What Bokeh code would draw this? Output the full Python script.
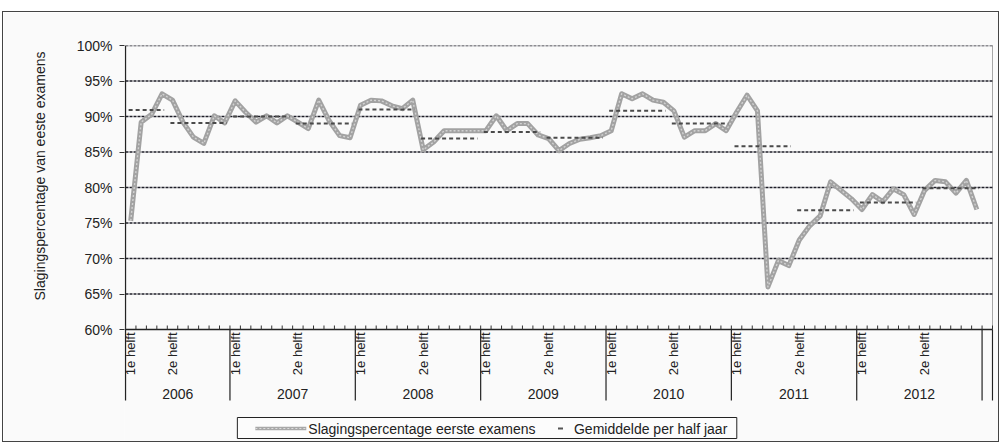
import math
from bokeh.plotting import figure
from bokeh.models import Range1d, FixedTicker, PrintfTickFormatter, Title
from bokeh.embed import file_html
from bokeh.resources import INLINE
from bokeh.core.properties import value

# ---------------- data ----------------
years = ["2006", "2007", "2008", "2009", "2010", "2011", "2012"]
months_in_year = [10, 12, 12, 12, 12, 12, 12]          # data starts March 2006
half_labels = ["1e helft", "2e helft"]
months_in_half = [4, 6, 6, 6, 6, 6, 6, 6, 6, 6, 6, 6, 6, 6]

# monthly pass rate (%) Mar 2006 .. Dec 2012
pass_rate = [
    75.3, 89.2, 90.3, 93.2, 92.3, 89.2, 87.1, 86.2, 90.1, 89.1,              # 2006
    92.2, 90.6, 89.2, 90.1, 89.1, 90.1, 89.2, 88.3, 92.3, 89.4, 87.3, 87.0,  # 2007
    91.6, 92.3, 92.2, 91.5, 91.1, 92.3, 85.3, 86.4, 88.0, 88.0, 88.0, 88.0,  # 2008
    88.0, 90.1, 88.0, 89.0, 89.0, 87.4, 86.9, 85.2, 86.2, 86.8, 87.0, 87.3,  # 2009
    88.0, 93.2, 92.5, 93.2, 92.3, 92.0, 90.8, 87.1, 88.0, 88.0, 89.0, 88.0,  # 2010
    90.6, 93.0, 90.8, 66.0, 69.7, 69.0, 72.6, 74.6, 76.0, 80.8, 79.6, 78.4,  # 2011
    76.9, 79.0, 78.0, 79.8, 79.0, 76.2, 79.6, 81.0, 80.8, 79.2, 81.0, 76.9,  # 2012
]
# average per half year (%)
half_avg = [90.9, 89.1, 90.0, 89.0, 91.0, 86.9, 87.8, 87.0,
            90.8, 89.0, 85.8, 76.8, 77.9, 79.9]

series_name = "Slagingspercentage eerste examens"
avg_name = "Gemiddelde per half jaar"
y_title = "Slagingspercentage van eeste examens"
y_ticks = [60, 65, 70, 75, 80, 85, 90, 95, 100]

# ---------------- figure ----------------
FONT = "Liberation Sans"
n_cat = sum(months_in_year) + 1           # one empty category at the end
px_per_cat = 10.458
px_per_pct = 7.1

p = figure(width=997, height=431, output_backend="svg", toolbar_location=None,
           x_axis_type=None,
           x_range=Range1d(-1 / px_per_cat, 869 / px_per_cat),
           y_range=Range1d(100 - 396 / px_per_pct, 100),
           min_border_left=120, min_border_right=7, min_border_top=33, min_border_bottom=2)
p.styles = {"border": "1px solid #444", "margin-left": "2px", "margin-top": "11px"}
p.background_fill_color = "#fafafa"
p.border_fill_color = "#fafafa"
p.outline_line_color = None
p.grid.visible = False

ax = p.yaxis[0]
ax.ticker = FixedTicker(ticks=y_ticks)
ax.formatter = PrintfTickFormatter(format="%d%%")
ax.axis_line_color = None
ax.major_tick_out = 5
ax.major_tick_in = 0
ax.minor_tick_out = 0
ax.minor_tick_in = 0
ax.major_tick_line_color = "#333333"
ax.major_label_standoff = 7
ax.major_label_text_font = FONT
ax.major_label_text_font_size = "14px"
ax.major_label_text_color = "#222222"

# y-axis title, placed along the 60-100% part of the frame
p.add_layout(Title(text=y_title, align="left", offset=141, standoff=52, vertical_align="bottom",
                   text_font=FONT, text_font_size="14px", text_font_style="normal",
                   text_color="#222222"), "left")


def px_x(px):
    return (px - 124) / px_per_cat


def px_y(py):
    return 100 - (py - 45) / px_per_pct


last = n_cat
y_bottom_cat = px_y(400)     # bottom of category label area

# grid lines
grid_vals = [t for t in y_ticks if t > 60]
p.segment(x0=[0] * len(grid_vals), x1=[last] * len(grid_vals), y0=grid_vals, y1=grid_vals,
          line_color="#1e1e28", line_width=1.3, line_dash="3 1")
# axes lines
p.segment(x0=[0], x1=[last], y0=[60], y1=[60], line_color="#222222", line_width=1.3)
p.segment(x0=[0], x1=[0], y0=[100], y1=[y_bottom_cat], line_color="#222222", line_width=1.3)
p.segment(x0=[last], x1=[last], y0=[100], y1=[60], line_color="#555555", line_width=1, line_dash="1 1")

# category ticks
ticks_x = list(range(0, last + 1))
p.segment(x0=ticks_x, x1=ticks_x, y0=[60] * len(ticks_x), y1=[60 + 4 / px_per_pct] * len(ticks_x),
          line_color="#333333", line_width=1)

# year separators
bounds = []
acc = 0
for m in months_in_year:
    acc += m
    bounds.append(acc)
bounds.append(last)
p.segment(x0=bounds, x1=bounds, y0=[60] * len(bounds), y1=[y_bottom_cat] * len(bounds),
          line_color="#222222", line_width=1.2)

# half-year labels (every 6th category)
hl_x, hl_t = [], []
idx = 0
for hi, m in enumerate(months_in_half):
    hl_x.append(idx + 0.5)
    hl_t.append(half_labels[hi % 2])
    idx += m
p.text(x=hl_x, y=[px_y(332)] * len(hl_x), text=hl_t, angle=math.pi / 2,
       text_align="right", text_baseline="middle", text_font=value(FONT),
       text_font_size="13px", text_color="#222222")

# year labels
yl_x = []
start = 0
for m in months_in_year:
    yl_x.append(start + m / 2)
    start += m
p.text(x=yl_x, y=[px_y(393)] * len(yl_x), text=years,
       text_align="center", text_baseline="middle", text_font=value(FONT),
       text_font_size="14px", text_color="#222222")

# main series
xs = [i + 0.5 for i in range(len(pass_rate))]
p.line(xs, pass_rate, line_width=5, line_color="#a2a2a2", line_join="round")
p.line(xs, pass_rate, line_width=1.4, line_color="#d2d2d2", line_join="round", line_dash="2 2")

# half-year averages
ax0, ax1 = [], []
idx = 0
for m in months_in_half:
    ax0.append(idx + 0.3)
    ax1.append(idx + m - 0.3)
    idx += m
p.segment(x0=ax0, x1=ax1, y0=half_avg, y1=half_avg, line_color="#4a4a4a",
          line_width=2, line_dash="4 3")

# legend (custom box)
ly = px_y(428)
p.quad(left=[px_x(236)], right=[px_x(736)], bottom=[px_y(438)], top=[px_y(417)],
       fill_color="#fcfcfc", line_color="#222222", line_width=1)
p.line([px_x(254), px_x(305)], [ly, ly], line_width=3.5, line_color="#a8a8a8")
p.line([px_x(254), px_x(305)], [ly, ly], line_width=1, line_color="#dcdcdc", line_dash="2 2")
p.text(x=[px_x(307)], y=[ly], text=[series_name], text_align="left", text_baseline="middle",
       text_font=value(FONT), text_font_size="14px", text_color="#222222")
p.segment(x0=[px_x(557)], x1=[px_x(562)], y0=[ly], y1=[ly], line_color="#555555", line_width=2)
p.text(x=[px_x(573)], y=[ly], text=[avg_name], text_align="left", text_baseline="middle",
       text_font=value(FONT), text_font_size="14px", text_color="#222222")

open("out.html", "w").write(file_html(p, INLINE))
